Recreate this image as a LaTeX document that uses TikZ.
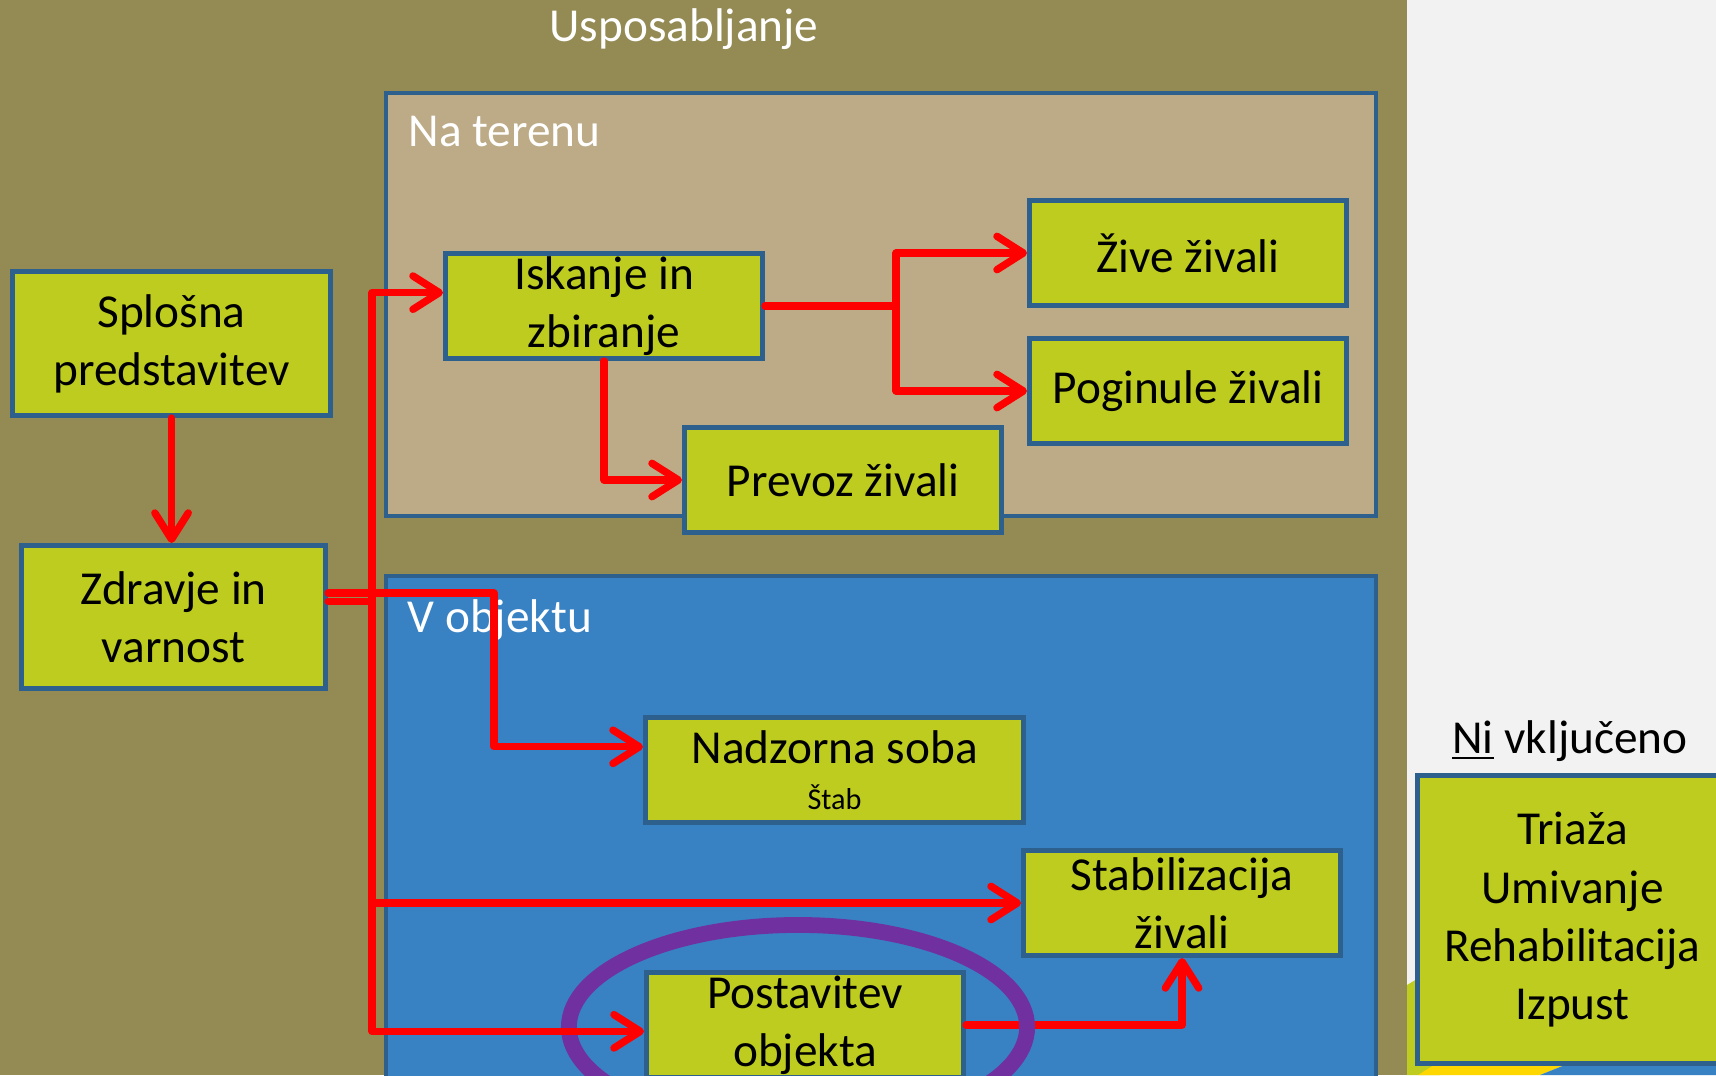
\documentclass[tikz,border=0pt]{standalone}
\usepackage{fontspec}
\setmainfont{Carlito}
\usetikzlibrary{arrows.meta}
\definecolor{bgolive}{RGB}{148,138,84}
\definecolor{bgpaper}{RGB}{242,242,242}
\definecolor{fieldtan}{RGB}{189,170,134}
\definecolor{hallblue}{RGB}{56,130,196}
\definecolor{edgeblue}{RGB}{46,96,142}
\definecolor{leafgreen}{RGB}{189,204,30}
\definecolor{ringpurple}{RGB}{112,48,160}
\definecolor{deckyellow}{RGB}{255,215,0}
\tikzstyle{flownode} = [draw=edgeblue,line width=1.4pt,fill=leafgreen,anchor=north west,align=center,inner sep=0pt,minimum width=3.17cm,minimum height=1.05cm,font=\fontsize{13.45}{16.5}\selectfont]
\tikzstyle{zone} = [draw=edgeblue,line width=1.4pt]
\tikzstyle{arealabel} = [text=white,anchor=base west,inner sep=0pt,font=\fontsize{13.45}{16.5}\selectfont]
\tikzstyle{flow} = [draw=red,line width=2.1pt,line cap=round,line join=round]
\tikzstyle{flowto} = [flow,-{Straight Barb[length=7.5pt,width=9.5pt,round]}]

\begin{document}
\begin{tikzpicture}[x=0.01cm,y=-0.01cm]
  \useasboundingbox (0,0) rectangle (1716,1075);
  \clip (0,0) rectangle (1716,1075);
  % ozadje
  \fill[bgolive] (0,0) rectangle (1407,1075);
  \fill[bgpaper] (1407,0) rectangle (1716,1075);
  \fill[leafgreen] (1407,985) -- (1440,965) -- (1440,1075) -- (1407,1075) -- cycle;
  \fill[deckyellow] (1418,1075) -- (1450,1055) -- (1590,1055) -- (1540,1075) -- cycle;
  \fill[hallblue] (1540,1075) -- (1590,1055) -- (1716,1055) -- (1716,1075) -- cycle;
  % obmocja
  \draw[zone,fill=fieldtan] (386,93) rectangle (1376,516);
  \draw[zone,fill=hallblue] (386,576) rectangle (1376,1095);
  \node[arealabel,anchor=base] (naslov) at (684,41) {Usposabljanje};
  \node[arealabel] (teren) at (408,146) {Na terenu};
  \node[arealabel] (objekt) at (407,632) {V objektu};
  \node[arealabel,text=black,anchor=base] (izvennaslov) at (1570,753) {\underline{Ni} vključeno};
  % koraki
  \node[flownode,minimum width=3.18cm,minimum height=1.44cm] (splosna) at (10,269) {Splošna\\predstavitev};
  \node[flownode,minimum width=3.04cm,minimum height=1.43cm] (zdravje) at (19,543) {Zdravje in\\varnost};
  \node[flownode] (iskanje) at (443,251) {Iskanje in\\zbiranje};
  \node[flownode] (zive) at (1027,198) {Žive živali};
  \node[flownode] (poginule) at (1027,336) {Poginule živali};
  \node[flownode] (prevoz) at (682,425) {Prevoz živali};
  \node[flownode,minimum width=3.78cm] (nadzorna) at (643,715) {Nadzorna soba\\[-3.5pt]{\fontsize{8.6}{10}\selectfont Štab}};
  \node[flownode] (stab) at (1021,848) {Stabilizacija\\živali};
  \node[flownode] (postavitev) at (644,970) {Postavitev\\objekta};
  \node[flownode,minimum width=3.1cm,minimum height=2.88cm] (izven) at (1415,773) {Triaža\\Umivanje\\Rehabilitacija\\Izpust};
  % povezave
  \draw[flowto] (splosna.south) -- (splosna.south |- zdravje.north);
  \draw[flow] ([yshift=4.5pt]zdravje.east) -- ++(44,0) coordinate (trunk);
  \draw[flowto] ([yshift=6.8pt]zdravje.east) -- ++(166,0) |- ([yshift=6.6pt]nadzorna.west);
  \draw[flowto] (trunk) |- ([yshift=3.8pt]iskanje.west);
  \draw[flowto] (trunk) |- (stab.west);
  \draw[flowto] (iskanje.east) -- ++(131,0) |- (zive.west);
  \draw[flowto] (iskanje.east) -- ++(131,0) |- (poginule.west);
  \draw[flowto] (iskanje.south) |- (prevoz.west);
  \draw[flowto] (postavitev.east) -| (stab.south);
  \draw[ringpurple,line width=4.5pt] (798,1027) ellipse [x radius=2.29cm,y radius=1.02cm];
  \draw[flowto] (trunk) |- ([yshift=-1.8pt]postavitev.west);
\end{tikzpicture}
\end{document}
